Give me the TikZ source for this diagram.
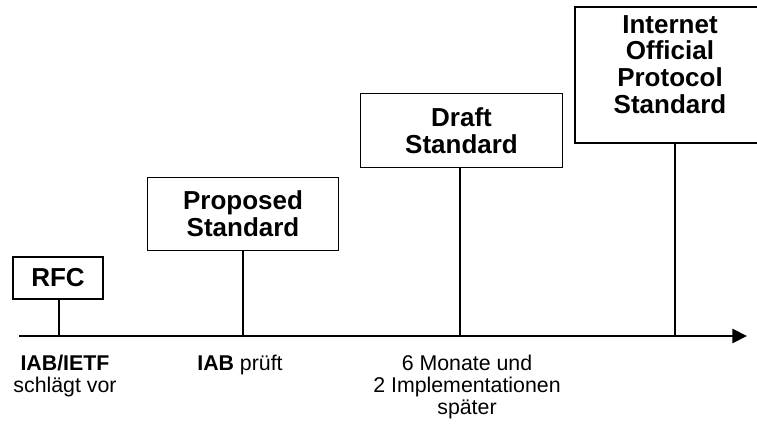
\documentclass[tikz,border=0pt]{standalone}
\usepackage{fontspec}
\setmainfont{Liberation Sans}
\usetikzlibrary{arrows.meta, positioning}

\tikzset{
  stage/.style={draw, line width=0.8pt, fill=white, align=center, inner sep=0pt,
    font=\fontsize{19.5}{20}\selectfont\bfseries},
  stem/.style={line width=2.2pt},
  timeaxis/.style={line width=2.2pt, -{Triangle[length=11pt, width=10.5pt]}},
  note/.style={align=center, inner sep=0pt, anchor=north,
    font=\fontsize{16}{16.5}\selectfont},
}

\begin{document}
\begin{tikzpicture}[x=0.75pt, y=-0.75pt]

  \useasboundingbox (0,0) rectangle (757,424);
  \clip (0,0) rectangle (757,424);

  % --- points on the time line ---
  \coordinate (start) at (19,336);
  \coordinate (end)   at (747,336);
  \coordinate (t1) at (59,336);
  \coordinate (t2) at (243,336);
  \coordinate (t3) at (460,336);
  \coordinate (t4) at (675,336);

  % --- the four stages ---
  \node[stage, minimum width=67.5pt, minimum height=31.5pt] (rfc) at (58,278) {RFC};
  \node[stage, minimum width=143pt, minimum height=55pt] (proposed) at (243,214)
    {Proposed\\Standard};
  \node[stage, minimum width=151pt, minimum height=55pt] (draft) at (461.5,130.5)
    {Draft\\Standard};
  \node[stage, minimum width=142.5pt, minimum height=102pt, text depth=16pt]
    (official) at (670,75) {Internet\\Official\\Protocol\\Standard};

  % --- stems down to the axis ---
  \draw[stem] (t1 |- rfc.south) -- (t1);
  \draw[stem] (t2 |- proposed.south) -- (t2);
  \draw[stem] (t3 |- draft.south) -- (t3);
  \draw[stem] (t4 |- official.south) -- (t4);

  % --- time axis ---
  \draw[timeaxis] (start) -- (end);

  % --- notes below the axis ---
  \node[note] (vorschlag) at (65,355) {\textbf{IAB/IETF}\\schlägt vor};
  \node[note] (pruefung) at (240,355) {\textbf{IAB} prüft};
  \node[note] (reife) at (467,355) {6 Monate und\\2 Implementationen\\später};

\end{tikzpicture}
\end{document}
